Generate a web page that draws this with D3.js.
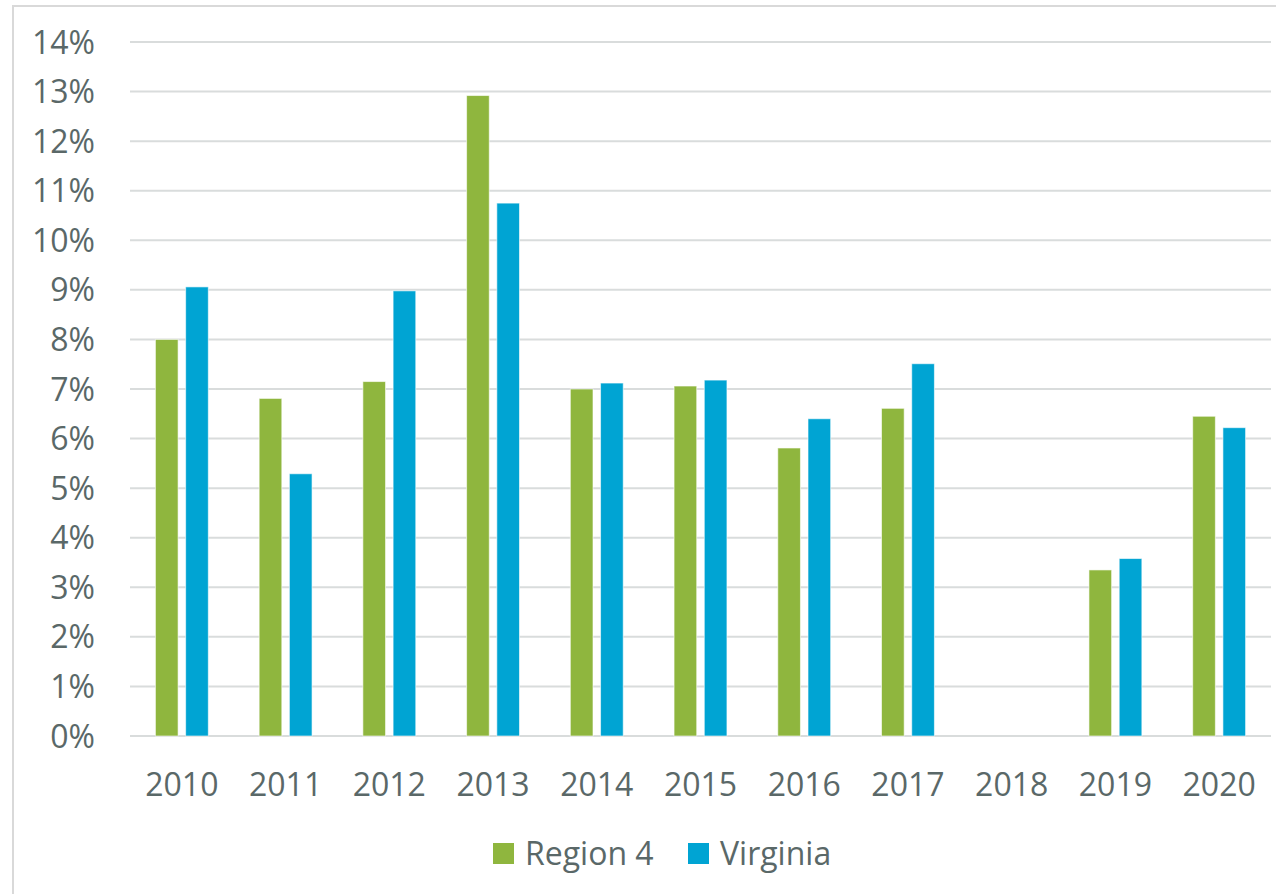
<!DOCTYPE html>
<html>
<head>
<meta charset="utf-8">
<style>
  body { margin: 0; background: #fff; }
  svg text { font-family: "Open Sans", sans-serif; fill: #5a6868; }
  .grid line { stroke: #d9dcdc; stroke-width: 2; }
</style>
</head>
<body>
<svg width="1276" height="894"></svg>
<script src="https://cdn.jsdelivr.net/npm/d3@7/dist/d3.min.js"></script>
<script>
// data (percent)
var years = ["2010","2011","2012","2013","2014","2015","2016","2017","2018","2019","2020"];
var region4 = [8.00, 6.81, 7.15, 12.92, 7.00, 7.06, 5.81, 6.61, null, 3.35, 6.45];
var virginia = [9.06, 5.29, 8.98, 10.75, 7.12, 7.18, 6.40, 7.51, null, 3.58, 6.22];
var seriesNames = ["Region 4", "Virginia"];
var yTicks = [0,1,2,3,4,5,6,7,8,9,10,11,12,13,14];

var colors = ["#8fb63e", "#00a4d3"];

var svg = d3.select("svg"),
    margin = {top: 42, right: 5, bottom: 158, left: 130},
    width = +svg.attr("width") - margin.left - margin.right,
    height = +svg.attr("height") - margin.top - margin.bottom;

// chart frame
svg.append("rect")
    .attr("x", 13).attr("y", 6)
    .attr("width", 1276 - 13 + 5).attr("height", 894)
    .attr("fill", "none")
    .attr("stroke", "#d9d9d9")
    .attr("stroke-width", 2);

var g = svg.append("g").attr("transform", "translate(" + margin.left + "," + margin.top + ")");

var x0 = d3.scaleBand().domain(years).range([0, width]).paddingInner(0.49).paddingOuter(0.245);
var x1 = d3.scaleBand().domain(seriesNames).range([0, x0.bandwidth()]).paddingInner(0.25);
var y = d3.scaleLinear().domain([0, 14]).range([height, 0]);

// gridlines
g.append("g").attr("class", "grid")
  .selectAll("line").data(yTicks).enter().append("line")
    .attr("x1", 0).attr("x2", width)
    .attr("y1", function(d){ return y(d); })
    .attr("y2", function(d){ return y(d); });

// y labels
g.selectAll(".ylab").data(yTicks).enter().append("text")
    .attr("class", "ylab")
    .attr("x", -35)
    .attr("y", function(d){ return y(d); })
    .attr("dy", "0.36em")
    .attr("text-anchor", "end")
    .style("font-size", "32px")
    .text(function(d){ return d + "%"; });

var rows = years.map(function(yr, i){ return {year: yr, vals: [region4[i], virginia[i]]}; });

var grp = g.selectAll(".yr").data(rows).enter().append("g")
    .attr("transform", function(d){ return "translate(" + x0(d.year) + ",0)"; });

grp.selectAll("rect")
  .data(function(d){ return d.vals.map(function(v, k){ return {k: k, v: v}; }).filter(function(e){ return e.v != null; }); })
  .enter().append("rect")
    .attr("x", function(d){ return x1(seriesNames[d.k]); })
    .attr("y", function(d){ return y(d.v); })
    .attr("width", x1.bandwidth())
    .attr("height", function(d){ return y(0) - y(d.v); })
    .attr("fill", function(d){ return colors[d.k]; })
    .attr("stroke", "#ffffff")
    .attr("stroke-opacity", 0.6)
    .attr("stroke-width", 1);

// x labels
g.selectAll(".xlab").data(years).enter().append("text")
    .attr("class", "xlab")
    .attr("x", function(d){ return x0(d) + x0.bandwidth() / 2; })
    .attr("y", height + 60)
    .attr("text-anchor", "middle")
    .style("font-size", "32px")
    .text(function(d){ return d; });

// legend
var legendX = [493, 688];
var legend = svg.selectAll(".legend").data(seriesNames).enter().append("g")
    .attr("class", "legend")
    .attr("transform", function(d, i){ return "translate(" + legendX[i] + ",843)"; });

legend.append("rect")
    .attr("width", 21).attr("height", 21)
    .attr("fill", function(d, i){ return colors[i]; });

legend.append("text")
    .attr("x", 32).attr("y", 22)
    .style("font-size", "32px")
    .text(function(d){ return d; });
</script>
</body>
</html>
